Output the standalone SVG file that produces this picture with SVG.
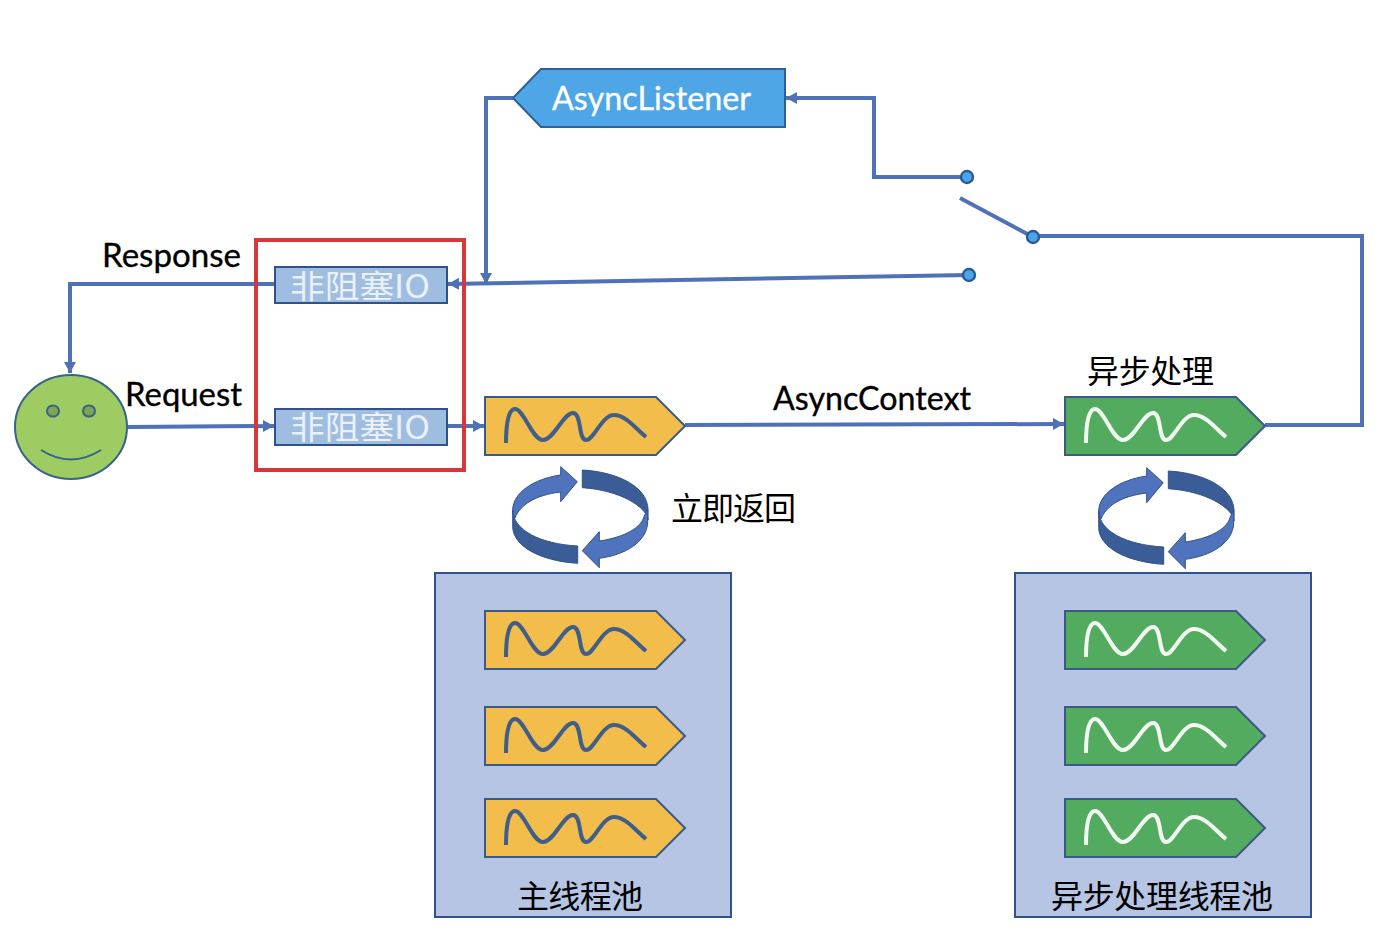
<svg xmlns="http://www.w3.org/2000/svg" width="1380" height="940" viewBox="0 0 1380 940">
<style>
text{font-family:"Lato","Noto Sans CJK SC",sans-serif;fill:#000;stroke:#000;stroke-width:.35px}
.cjk{font-family:"Noto Sans CJK SC","Noto Sans",sans-serif;stroke-width:0}
.conn{fill:none;stroke:#4f71b5;stroke-width:4}
.box{stroke:#2f5288;stroke-width:2}
.pent{stroke:#3c5a86;stroke-width:2}
.yel{fill:#f3bd4c}
.grn{fill:#52ab5e}
.wave{fill:none;stroke-width:4}
.dot{fill:#4aa5ea;stroke:#2a5a92;stroke-width:2.4}
.io{fill:#9fbde0}
text.iot{fill:#eaf1f8;stroke-width:0;font-size:32px;font-family:"Noto Sans CJK SC",sans-serif}
.f{fill:#4f74bd;stroke:#2f5288;stroke-width:1}
.b{fill:#3b5d97;stroke:#2f5288;stroke-width:1}
</style>
<defs>
<marker id="ah" markerUnits="userSpaceOnUse" markerWidth="14" markerHeight="14" refX="11" refY="7" orient="auto"><path d="M0 1L11 7L0 13Z" fill="#4f71b5"/></marker>
<path id="p" d="M0 0H171L200 29L171 58H0Z"/>
<path id="w" d="M21 46C21 25 24 12 30 12C39 12 47 43 58 43C69 43 78 16 88 16C97 16 93 43 101 43C109 43 117 18 129 18C141 18 151 32 161 40"/>
<g id="cycle">
<path class="b" d="M582.3 470C618 472 648 487 648 510V520C647 507 620 490 582.3 487.7Z"/>
<path class="f" d="M577.3 481.7L560.7 466.7V475C533 479 513 493 512.7 510C514 516 514 517 515 518C520 505 535 495 560.7 492V501.7Z"/>
<path class="b" d="M577.7 546V563.3C540 561 513 546 512.7 526.7V510C513 530 540 544 577.7 546Z"/>
<path class="f" d="M582.3 550.7L599.3 531.7V541C620 538 640 530 644 516.7L647.7 508V522C647 542 625 555 599.3 558.3V567.7Z"/>
</g>
</defs>

<g id="connectors">
<path class="conn" d="M275 284H70V373" marker-end="url(#ah)"/>
<path class="conn" d="M128 427L274 426" marker-end="url(#ah)"/>
<path class="conn" d="M447 426H484" marker-end="url(#ah)"/>
<path class="conn" d="M685 425L1064 424" marker-end="url(#ah)"/>
<path class="conn" d="M1265 425H1362V236H1033"/>
<path class="conn" d="M960 198L1033 237"/>
<path class="conn" d="M967 177H874V98H786" marker-end="url(#ah)"/>
<path class="conn" d="M513 98H486V284" marker-end="url(#ah)"/>
<path class="conn" d="M969 275L448 284" marker-end="url(#ah)"/>
</g>

<g id="red-frame"><rect x="256" y="240" width="208" height="230" fill="none" stroke="#d9363a" stroke-width="4"/></g>

<g id="listener"><path d="M513 98L541 69H785V127H541Z" fill="#4ea6e6" stroke="#2f5f96" stroke-width="2"/>
<text x="552" y="110" font-size="33" textLength="199" lengthAdjust="spacingAndGlyphs" style="fill:#fff;stroke:#fff">AsyncListener</text></g>

<g id="sw-a"><circle class="dot" cx="967" cy="177" r="6"/></g>
<g id="sw-b"><circle class="dot" cx="1033" cy="237" r="6"/></g>
<g id="sw-c"><circle class="dot" cx="969" cy="275" r="6"/></g>

<g id="client">
<ellipse cx="71" cy="427" rx="56" ry="52" fill="#9ecb62" stroke="#35638c" stroke-width="2"/>
<ellipse cx="53" cy="411" rx="6" ry="5.5" fill="#7fa552" stroke="#35638c" stroke-width="2"/>
<ellipse cx="89" cy="411" rx="6" ry="5.5" fill="#7fa552" stroke="#35638c" stroke-width="2"/>
<path d="M41 450Q71 469 101 450" fill="none" stroke="#35638c" stroke-width="2"/>
</g>
<text x="102" y="267" font-size="32" textLength="139" lengthAdjust="spacingAndGlyphs">Response</text>
<text x="125" y="406" font-size="32" textLength="117" lengthAdjust="spacingAndGlyphs">Request</text>

<g id="io-1"><rect class="io box" x="275" y="267" width="172" height="36"/><text class="iot" x="290" y="298" textLength="140" lengthAdjust="spacingAndGlyphs">非阻塞IO</text></g>
<g id="io-2"><rect class="io box" x="275" y="409" width="172" height="36"/><text class="iot" x="290" y="439" textLength="140" lengthAdjust="spacingAndGlyphs">非阻塞IO</text></g>

<g id="main-task"><use href="#p" x="485" y="397" class="yel pent"/><use href="#w" x="485" y="397" class="wave" stroke="#3f5f8a"/></g>
<g id="async-task"><use href="#p" x="1065" y="397" class="grn pent"/><use href="#w" x="1065" y="397" class="wave" stroke="#f2f8f2"/></g>

<text x="773" y="410" font-size="32" textLength="198" lengthAdjust="spacingAndGlyphs">AsyncContext</text>
<text class="cjk" x="1087" y="383" font-size="32" textLength="127">异步处理</text>
<text class="cjk" x="671" y="520" font-size="32" textLength="125">立即返回</text>

<g id="cycle-main"><use href="#cycle"/></g>
<g id="cycle-async"><use href="#cycle" x="586" y="1"/></g>

<g id="main-pool">
<rect x="435" y="573" width="296" height="344" fill="#b5c5e3" stroke="#2f5288" stroke-width="2"/>
<use href="#p" x="485" y="611" class="yel pent"/><use href="#w" x="485" y="611" class="wave" stroke="#3f5f8a"/>
<use href="#p" x="485" y="707" class="yel pent"/><use href="#w" x="485" y="707" class="wave" stroke="#3f5f8a"/>
<use href="#p" x="485" y="799" class="yel pent"/><use href="#w" x="485" y="799" class="wave" stroke="#3f5f8a"/>
<text class="cjk" x="517" y="908" font-size="32" textLength="126">主线程池</text>
</g>
<g id="async-pool">
<rect x="1015" y="573" width="296" height="344" fill="#b5c5e3" stroke="#2f5288" stroke-width="2"/>
<use href="#p" x="1065" y="611" class="grn pent"/><use href="#w" x="1065" y="611" class="wave" stroke="#f2f8f2"/>
<use href="#p" x="1065" y="707" class="grn pent"/><use href="#w" x="1065" y="707" class="wave" stroke="#f2f8f2"/>
<use href="#p" x="1065" y="799" class="grn pent"/><use href="#w" x="1065" y="799" class="wave" stroke="#f2f8f2"/>
<text class="cjk" x="1051" y="908" font-size="32" textLength="222">异步处理线程池</text>
</g>
</svg>
